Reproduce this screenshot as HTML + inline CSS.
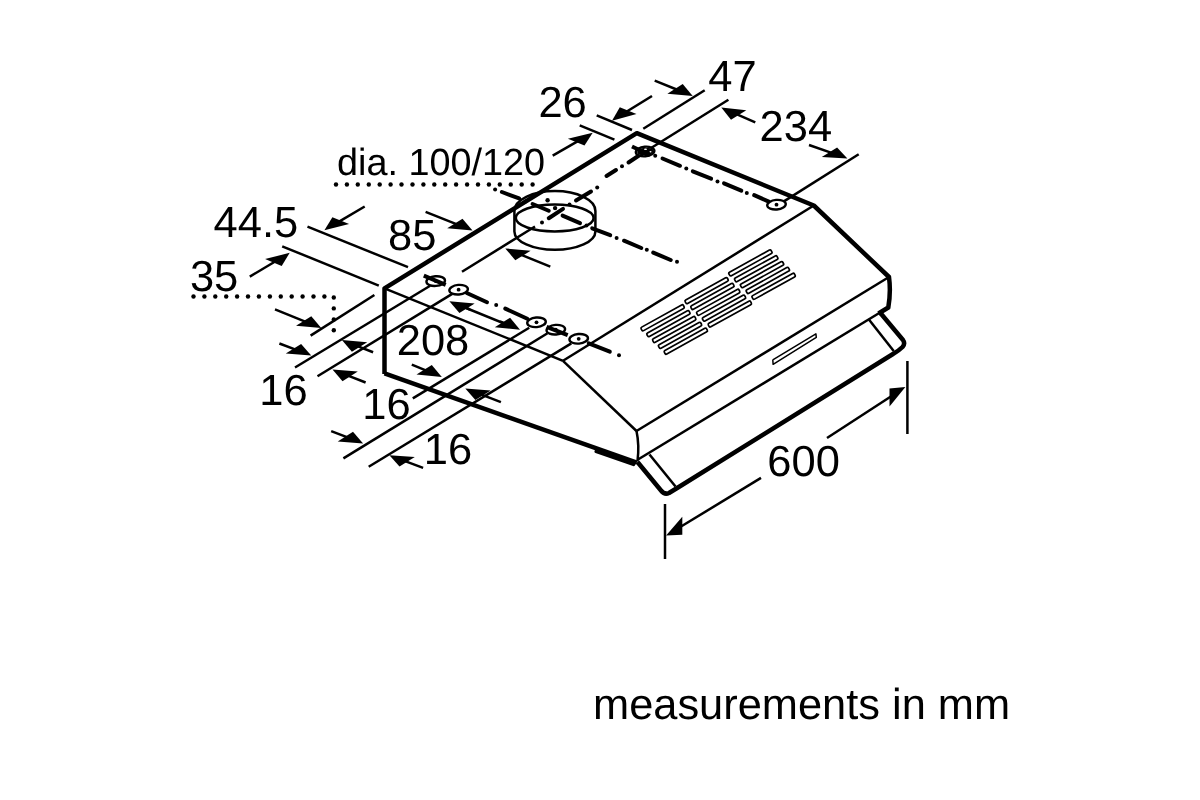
<!DOCTYPE html>
<html><head><meta charset="utf-8"><style>
html,body{margin:0;padding:0;background:#fff;width:1200px;height:800px;overflow:hidden}
svg{display:block}
body{-webkit-font-smoothing:antialiased;}
text{text-rendering:geometricPrecision}
text{font-family:"Liberation Sans",sans-serif;fill:#000}

</style></head><body>
<div style="will-change:transform;width:1200px;height:800px"><svg width="1200" height="800" viewBox="0 0 1200 800">
<rect width="1200" height="800" fill="#fff"/>
<g stroke="#000" stroke-linecap="butt" stroke-linejoin="round" fill="none">
<line x1="384.5" y1="288.3" x2="563" y2="360.8" stroke-width="2.5" />
<line x1="563" y1="360.8" x2="636.5" y2="431" stroke-width="2.5" />
<line x1="563" y1="360.8" x2="813.8" y2="205.5" stroke-width="2.5" />
<line x1="636.5" y1="431" x2="889" y2="277" stroke-width="2.5" />
<line x1="638" y1="459.5" x2="888.3" y2="307.5" stroke-width="2.5" />
<path d="M636.5,431 Q639.5,445 637.5,461.5" stroke-width="2.5" fill="none" />
<rect x="641.5" y="327.5" width="48.3" height="4.0" rx="1.3" stroke-width="1.7" fill="none" transform="rotate(-29.01 641.5 329.5)"/>
<rect x="647.3" y="333.35" width="48.3" height="4.0" rx="1.3" stroke-width="1.7" fill="none" transform="rotate(-29.01 647.3 335.35)"/>
<rect x="653.1" y="339.2" width="48.3" height="4.0" rx="1.3" stroke-width="1.7" fill="none" transform="rotate(-29.01 653.1 341.2)"/>
<rect x="658.9" y="345.05" width="48.3" height="4.0" rx="1.3" stroke-width="1.7" fill="none" transform="rotate(-29.01 658.9 347.05)"/>
<rect x="664.7" y="350.9" width="48.3" height="4.0" rx="1.3" stroke-width="1.7" fill="none" transform="rotate(-29.01 664.7 352.9)"/>
<rect x="685.5" y="300.3" width="48.3" height="4.0" rx="1.3" stroke-width="1.7" fill="none" transform="rotate(-29.01 685.5 302.3)"/>
<rect x="691.3" y="306.15000000000003" width="48.3" height="4.0" rx="1.3" stroke-width="1.7" fill="none" transform="rotate(-29.01 691.3 308.15000000000003)"/>
<rect x="697.1" y="312.0" width="48.3" height="4.0" rx="1.3" stroke-width="1.7" fill="none" transform="rotate(-29.01 697.1 314.0)"/>
<rect x="702.9" y="317.85" width="48.3" height="4.0" rx="1.3" stroke-width="1.7" fill="none" transform="rotate(-29.01 702.9 319.85)"/>
<rect x="708.7" y="323.7" width="48.3" height="4.0" rx="1.3" stroke-width="1.7" fill="none" transform="rotate(-29.01 708.7 325.7)"/>
<rect x="729.3" y="272.6" width="48.3" height="4.0" rx="1.3" stroke-width="1.7" fill="none" transform="rotate(-29.01 729.3 274.6)"/>
<rect x="735.0999999999999" y="278.45000000000005" width="48.3" height="4.0" rx="1.3" stroke-width="1.7" fill="none" transform="rotate(-29.01 735.0999999999999 280.45000000000005)"/>
<rect x="740.9" y="284.3" width="48.3" height="4.0" rx="1.3" stroke-width="1.7" fill="none" transform="rotate(-29.01 740.9 286.3)"/>
<rect x="746.6999999999999" y="290.15000000000003" width="48.3" height="4.0" rx="1.3" stroke-width="1.7" fill="none" transform="rotate(-29.01 746.6999999999999 292.15000000000003)"/>
<rect x="752.5" y="296.0" width="48.3" height="4.0" rx="1.3" stroke-width="1.7" fill="none" transform="rotate(-29.01 752.5 298.0)"/>
<polyline points="772.8,359.8 815.9,333.9 816.3,337.3 773.1,364.3 772.8,359.8" stroke-width="1.5" fill="none" />
<polyline points="649.5,454.5 675.5,486.5" stroke-width="2.5" fill="none" />
<polyline points="868.9,319.4 893.7,351" stroke-width="2.5" fill="none" />
<path d="M637.5,462 L661,490.5 Q664.5,495 669,493 L678,487.5 L893,354 Q898.5,351 902.5,347 Q905.5,343.5 903,340 L880,312.5" stroke-width="4.5" fill="none" />
<path d="M514.4,211 A40.5,19.9 0 0 1 595.4,211 L595.4,231.5 A40.5,18.3 0 0 1 514.4,231.5 Z" stroke-width="2.5" fill="none" fill="#fff"/>
<ellipse cx="554.7" cy="218" rx="38.9" ry="13.4" stroke-width="2.5" fill="#fff" transform="rotate(0 554.7 218)"/>
<path d="M384.5,374 L384.5,288.3 L636.8,133.2 L813.8,205.5 L889,277 Q891,292 888.3,307.5 L878.5,313.5" stroke-width="4.5" fill="none" />
<line x1="384.5" y1="373.4" x2="636.8" y2="462.6" stroke-width="4.5" />
<line x1="596" y1="451.5" x2="633.5" y2="464.6" stroke-width="3.2" stroke-linecap="round"/>
<line x1="639" y1="155.5" x2="628.5" y2="162.5" stroke-width="4.0" stroke-linecap="round"/>
<circle cx="622" cy="166.2" r="2.0" fill="#000" stroke="none"/>
<line x1="616" y1="170" x2="606.5" y2="176" stroke-width="4.0" stroke-linecap="round"/>
<circle cx="597.2" cy="187.5" r="2.0" fill="#000" stroke="none"/>
<line x1="591" y1="191.5" x2="576" y2="200.5" stroke-width="4.0" stroke-linecap="round"/>
<circle cx="569.5" cy="204.5" r="2.0" fill="#000" stroke="none"/>
<line x1="563" y1="208.9" x2="548.75" y2="218.25" stroke-width="4.0" stroke-linecap="round"/>
<circle cx="542" cy="222.4" r="2.0" fill="#000" stroke="none"/>
<circle cx="495.1" cy="189.4" r="2.0" fill="#000" stroke="none"/>
<line x1="501.9" y1="192" x2="519.1" y2="198.4" stroke-width="4.0" stroke-linecap="round"/>
<circle cx="525.5" cy="201.4" r="2.0" fill="#000" stroke="none"/>
<line x1="532.6" y1="204" x2="548.75" y2="210.75" stroke-width="4.0" stroke-linecap="round"/>
<line x1="562.6" y1="215.6" x2="580" y2="223.1" stroke-width="4.0" stroke-linecap="round"/>
<circle cx="586.5" cy="225.5" r="2.0" fill="#000" stroke="none"/>
<line x1="592.2" y1="228.3" x2="610.2" y2="235.2" stroke-width="4.0" stroke-linecap="round"/>
<circle cx="616.6" cy="237.9" r="2.0" fill="#000" stroke="none"/>
<line x1="624" y1="240.7" x2="641.3" y2="248" stroke-width="4.0" stroke-linecap="round"/>
<circle cx="646.8" cy="249.8" r="2.0" fill="#000" stroke="none"/>
<line x1="653.25" y1="252.6" x2="670.7" y2="260" stroke-width="4.0" stroke-linecap="round"/>
<circle cx="677" cy="261.75" r="2.0" fill="#000" stroke="none"/>
<circle cx="655.2" cy="155.7" r="2.0" fill="#000" stroke="none"/>
<line x1="662.5" y1="158.5" x2="680" y2="165.8" stroke-width="4.0" stroke-linecap="round"/>
<circle cx="686.3" cy="168.6" r="2.0" fill="#000" stroke="none"/>
<line x1="692.8" y1="171.3" x2="711.1" y2="178.7" stroke-width="4.0" stroke-linecap="round"/>
<circle cx="717.5" cy="181.4" r="2.0" fill="#000" stroke="none"/>
<line x1="724" y1="183.3" x2="741.3" y2="190.6" stroke-width="4.0" stroke-linecap="round"/>
<circle cx="746.8" cy="193" r="2.0" fill="#000" stroke="none"/>
<line x1="754.2" y1="195.2" x2="768.8" y2="201.6" stroke-width="4.0" stroke-linecap="round"/>
<line x1="466.8" y1="293" x2="487" y2="302.2" stroke-width="4.0" stroke-linecap="round"/>
<circle cx="496.2" cy="304.9" r="2.0" fill="#000" stroke="none"/>
<line x1="505.3" y1="308.6" x2="527.3" y2="318.7" stroke-width="4.0" stroke-linecap="round"/>
<line x1="588.8" y1="343.4" x2="609.8" y2="351.7" stroke-width="4.0" stroke-linecap="round"/>
<circle cx="619" cy="355.3" r="2.0" fill="#000" stroke="none"/>
<ellipse cx="645.1" cy="151.5" rx="9.3" ry="4.8" stroke-width="2.4" fill="#fff" transform="rotate(-5 645.1 151.5)"/>
<circle cx="645.1" cy="151.5" r="1.9" fill="#000" stroke="none"/>
<ellipse cx="776.5" cy="204.7" rx="9.3" ry="4.8" stroke-width="2.4" fill="#fff" transform="rotate(-5 776.5 204.7)"/>
<circle cx="776.5" cy="204.7" r="1.9" fill="#000" stroke="none"/>
<ellipse cx="645.3" cy="151.6" rx="8.2" ry="3.9" fill="#000" stroke="none" transform="rotate(-5 645.3 151.6)"/>
<ellipse cx="645.5" cy="149.3" rx="1.6" ry="0.7" fill="#fff" stroke="none"/>
<ellipse cx="650.5" cy="151.8" rx="1.0" ry="0.8" fill="#fff" stroke="none"/>
<ellipse cx="435.7" cy="281.1" rx="9.3" ry="4.8" stroke-width="2.4" fill="#fff" transform="rotate(-5 435.7 281.1)"/>
<circle cx="435.7" cy="281.1" r="1.9" fill="#000" stroke="none"/>
<ellipse cx="458.6" cy="289.7" rx="9.3" ry="4.8" stroke-width="2.4" fill="#fff" transform="rotate(-5 458.6 289.7)"/>
<circle cx="458.6" cy="289.7" r="1.9" fill="#000" stroke="none"/>
<ellipse cx="536.5" cy="322.3" rx="9.3" ry="4.8" stroke-width="2.4" fill="#fff" transform="rotate(-5 536.5 322.3)"/>
<circle cx="536.5" cy="322.3" r="1.9" fill="#000" stroke="none"/>
<ellipse cx="555.8" cy="329.7" rx="9.3" ry="4.8" stroke-width="2.4" fill="#fff" transform="rotate(-5 555.8 329.7)"/>
<circle cx="555.8" cy="329.7" r="1.9" fill="#000" stroke="none"/>
<ellipse cx="578.7" cy="338.8" rx="9.3" ry="4.8" stroke-width="2.4" fill="#fff" transform="rotate(-5 578.7 338.8)"/>
<circle cx="578.7" cy="338.8" r="1.9" fill="#000" stroke="none"/>
<line x1="423.8" y1="275.6" x2="445.7" y2="284.8" stroke-width="4.0" />
<line x1="546.6" y1="326.9" x2="567.7" y2="335.2" stroke-width="4.0" />
<line x1="632" y1="146.5" x2="650" y2="155" stroke-width="4.0" />
<line x1="462" y1="271.8" x2="535" y2="226.5" stroke-width="2.5" />
<line x1="307.5" y1="226.6" x2="408" y2="267.2" stroke-width="2.5" />
<line x1="282.2" y1="246.3" x2="378.8" y2="285.6" stroke-width="2.5" />
<line x1="310.6" y1="335.6" x2="374.4" y2="295" stroke-width="2.5" />
<line x1="295" y1="367.5" x2="430.2" y2="285.7" stroke-width="2.5" />
<line x1="317.5" y1="376.3" x2="452.2" y2="293.9" stroke-width="2.5" />
<line x1="412.8" y1="398.4" x2="529.2" y2="327.8" stroke-width="2.5" />
<line x1="343.4" y1="458.4" x2="547.5" y2="333.3" stroke-width="2.5" />
<line x1="368.7" y1="466.8" x2="571.3" y2="343.4" stroke-width="2.5" />
<line x1="596.7" y1="115.3" x2="632" y2="130" stroke-width="2.5" />
<line x1="579.7" y1="125.3" x2="614.4" y2="139.6" stroke-width="2.5" />
<line x1="643.3" y1="128.7" x2="704.7" y2="90.3" stroke-width="2.5" />
<line x1="651.5" y1="147.8" x2="728.4" y2="99.8" stroke-width="2.5" />
<line x1="783.5" y1="201.6" x2="858.7" y2="154.2" stroke-width="2.5" />
<line x1="665" y1="504" x2="665" y2="559" stroke-width="2.5" />
<line x1="907.4" y1="361" x2="907.4" y2="434" stroke-width="2.5" />
<line x1="654.7" y1="80.7" x2="677.9" y2="90.0" stroke-width="2.5" />
<polygon points="692.7,96 682.7,84.1 667.4,93.7" fill="#000" stroke="none"/>
<line x1="755.3" y1="122.4" x2="735.9" y2="113.9" stroke-width="2.5" />
<polygon points="721.3,107.4 746.3,110.3 731.0,119.8" fill="#000" stroke="none"/>
<line x1="809" y1="145" x2="832.3" y2="153.1" stroke-width="2.5" />
<polygon points="847.4,158.4 837.1,147.4 821.8,156.9" fill="#000" stroke="none"/>
<line x1="652" y1="96" x2="625.6" y2="112.3" stroke-width="2.5" />
<polygon points="612,120.7 636.5,114.1 619.8,107.3" fill="#000" stroke="none"/>
<line x1="552.7" y1="155.6" x2="578.8" y2="140.6" stroke-width="2.5" />
<polygon points="592.7,132.7 584.5,145.6 567.9,138.7" fill="#000" stroke="none"/>
<line x1="364.7" y1="206.5" x2="338.2" y2="222.2" stroke-width="2.5" />
<polygon points="324.4,230.3 349.1,224.1 332.4,217.2" fill="#000" stroke="none"/>
<line x1="249.8" y1="276.6" x2="276.0" y2="261.0" stroke-width="2.5" />
<polygon points="289.7,252.8 281.7,266.0 265.1,259.1" fill="#000" stroke="none"/>
<line x1="425.6" y1="211.9" x2="457.6" y2="224.7" stroke-width="2.5" />
<polygon points="472.5,230.6 462.5,218.8 447.2,228.3" fill="#000" stroke="none"/>
<line x1="550.3" y1="266.6" x2="520.1" y2="254.4" stroke-width="2.5" />
<polygon points="505.3,248.4 530.6,250.8 515.3,260.3" fill="#000" stroke="none"/>
<line x1="275" y1="309.4" x2="306.4" y2="322.1" stroke-width="2.5" />
<polygon points="321.25,328.1 311.3,316.2 296.0,325.7" fill="#000" stroke="none"/>
<line x1="279.4" y1="343.5" x2="296.3" y2="349.9" stroke-width="2.5" />
<polygon points="311.25,355.6 301.1,344.1 285.8,353.6" fill="#000" stroke="none"/>
<line x1="373.1" y1="352.25" x2="356.8" y2="345.8" stroke-width="2.5" />
<polygon points="341.9,340 367.2,342.2 351.9,351.7" fill="#000" stroke="none"/>
<line x1="365.6" y1="382.5" x2="347.4" y2="375.3" stroke-width="2.5" />
<polygon points="332.5,369.4 357.8,371.6 342.5,381.2" fill="#000" stroke="none"/>
<line x1="411.8" y1="364.7" x2="427.0" y2="370.9" stroke-width="2.5" />
<polygon points="441.8,376.9 431.8,365.0 416.5,374.5" fill="#000" stroke="none"/>
<line x1="500.9" y1="402.2" x2="480.2" y2="394.2" stroke-width="2.5" />
<polygon points="465.3,388.5 490.7,390.6 475.4,400.1" fill="#000" stroke="none"/>
<line x1="331.2" y1="431.2" x2="348.2" y2="437.7" stroke-width="2.5" />
<polygon points="363.1,443.4 353.0,431.8 337.7,441.4" fill="#000" stroke="none"/>
<line x1="423.1" y1="467.8" x2="404.4" y2="460.8" stroke-width="2.5" />
<polygon points="389.4,455.2 414.8,457.1 399.5,466.6" fill="#000" stroke="none"/>
<line x1="455" y1="303.5" x2="514" y2="327.5" stroke-width="2.5" />
<line x1="470" y1="309.5" x2="464.3" y2="307.2" stroke-width="2.5" />
<polygon points="449.4,301.3 474.7,303.6 459.4,313.1" fill="#000" stroke="none"/>
<line x1="500" y1="321.5" x2="505.2" y2="323.6" stroke-width="2.5" />
<polygon points="520,329.7 510.1,317.7 494.8,327.3" fill="#000" stroke="none"/>
<line x1="761" y1="477.9" x2="679.8" y2="527.3" stroke-width="2.5" />
<polygon points="666.1,535.6 682.3,534.7 682.3,516.7" fill="#000" stroke="none"/>
<line x1="827" y1="438" x2="892.0" y2="395.8" stroke-width="2.5" />
<polygon points="905.4,387.1 889.5,406.4 889.5,388.4" fill="#000" stroke="none"/>
<circle cx="193.5" cy="296.5" r="2.2" fill="#000" stroke="none"/>
<circle cx="204.4" cy="296.5" r="2.2" fill="#000" stroke="none"/>
<circle cx="215.3" cy="296.5" r="2.2" fill="#000" stroke="none"/>
<circle cx="226.2" cy="296.5" r="2.2" fill="#000" stroke="none"/>
<circle cx="237.1" cy="296.5" r="2.2" fill="#000" stroke="none"/>
<circle cx="248.0" cy="296.5" r="2.2" fill="#000" stroke="none"/>
<circle cx="258.9" cy="296.5" r="2.2" fill="#000" stroke="none"/>
<circle cx="269.9" cy="296.5" r="2.2" fill="#000" stroke="none"/>
<circle cx="280.8" cy="296.5" r="2.2" fill="#000" stroke="none"/>
<circle cx="291.7" cy="296.5" r="2.2" fill="#000" stroke="none"/>
<circle cx="302.6" cy="296.5" r="2.2" fill="#000" stroke="none"/>
<circle cx="313.5" cy="296.5" r="2.2" fill="#000" stroke="none"/>
<circle cx="324.4" cy="296.5" r="2.2" fill="#000" stroke="none"/>
<circle cx="333.8" cy="297.5" r="2.2" fill="#000" stroke="none"/>
<circle cx="333.8" cy="308.4" r="2.2" fill="#000" stroke="none"/>
<circle cx="333.8" cy="319.4" r="2.2" fill="#000" stroke="none"/>
<circle cx="333.8" cy="330.3" r="2.2" fill="#000" stroke="none"/>
<circle cx="336.0" cy="184.5" r="2.2" fill="#000" stroke="none"/>
<circle cx="346.9" cy="184.5" r="2.2" fill="#000" stroke="none"/>
<circle cx="357.8" cy="184.5" r="2.2" fill="#000" stroke="none"/>
<circle cx="368.8" cy="184.5" r="2.2" fill="#000" stroke="none"/>
<circle cx="379.7" cy="184.5" r="2.2" fill="#000" stroke="none"/>
<circle cx="390.6" cy="184.5" r="2.2" fill="#000" stroke="none"/>
<circle cx="401.5" cy="184.5" r="2.2" fill="#000" stroke="none"/>
<circle cx="412.5" cy="184.5" r="2.2" fill="#000" stroke="none"/>
<circle cx="423.4" cy="184.5" r="2.2" fill="#000" stroke="none"/>
<circle cx="434.3" cy="184.5" r="2.2" fill="#000" stroke="none"/>
<circle cx="445.2" cy="184.5" r="2.2" fill="#000" stroke="none"/>
<circle cx="456.1" cy="184.5" r="2.2" fill="#000" stroke="none"/>
<circle cx="467.1" cy="184.5" r="2.2" fill="#000" stroke="none"/>
<circle cx="478.0" cy="184.5" r="2.2" fill="#000" stroke="none"/>
<circle cx="488.9" cy="184.5" r="2.2" fill="#000" stroke="none"/>
<circle cx="499.8" cy="184.5" r="2.2" fill="#000" stroke="none"/>
<circle cx="510.8" cy="184.5" r="2.2" fill="#000" stroke="none"/>
<circle cx="521.7" cy="184.5" r="2.2" fill="#000" stroke="none"/>
<circle cx="532.6" cy="184.5" r="2.2" fill="#000" stroke="none"/>
<circle cx="547.6" cy="200.25" r="2.2" fill="#000" stroke="none"/>
<circle cx="555.1" cy="208.1" r="2.2" fill="#000" stroke="none"/>
</g>
<g>
<text x="708.3" y="90.7" font-size="43.5" text-anchor="start">47</text>
<text x="538.4" y="116.5" font-size="43.5" text-anchor="start">26</text>
<text x="759.5" y="141" font-size="43.5" text-anchor="start">234</text>
<text x="337" y="175" font-size="37.8" text-anchor="start">dia. 100/120</text>
<text x="213.6" y="236.6" font-size="43.5" text-anchor="start">44.5</text>
<text x="189.9" y="290.8" font-size="43.5" text-anchor="start">35</text>
<text x="388" y="250" font-size="43.5" text-anchor="start">85</text>
<text x="396.7" y="355.3" font-size="43.5" text-anchor="start">208</text>
<text x="259.2" y="405" font-size="43.5" text-anchor="start">16</text>
<text x="362.3" y="419.4" font-size="43.5" text-anchor="start">16</text>
<text x="423.8" y="463.8" font-size="43.5" text-anchor="start">16</text>
<text x="767.3" y="475.7" font-size="43.5" text-anchor="start">600</text>
<text x="593" y="718.5" font-size="43.4" text-anchor="start">measurements in mm</text>
</g>
</svg></div>
</body></html>
